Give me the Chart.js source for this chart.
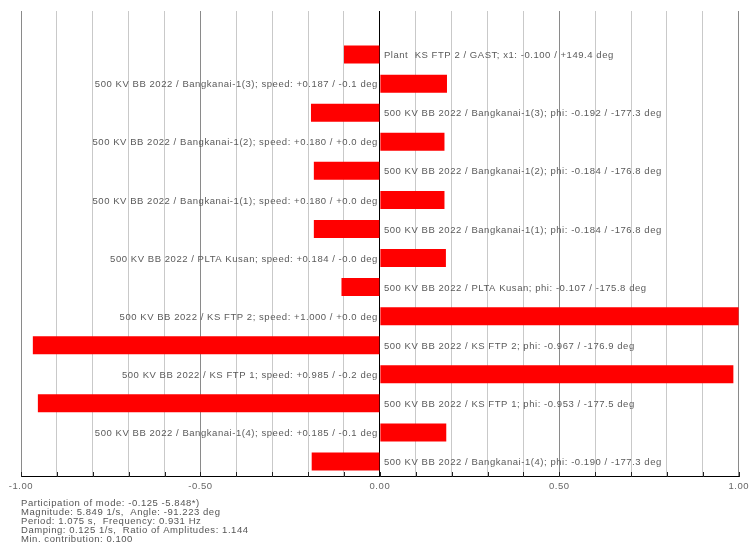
<!DOCTYPE html>
<html>
<head>
<meta charset="utf-8">
<script src="https://cdn.jsdelivr.net/npm/chart.js@4/dist/chart.umd.min.js"></script>
<style>
  html, body { margin: 0; padding: 0; background: #ffffff; }
  #wrap { position: relative; width: 753px; height: 555px; }
</style>
</head>
<body>
<div id="wrap"><canvas id="c" width="753" height="555"></canvas></div>
<script>
// Participation factors for the oscillation mode (top to bottom)
const categories = [
  "",
  "Plant  KS FTP 2 / GAST; x1: -0.100 / +149.4 deg",
  "500 KV BB 2022 / Bangkanai-1(3); speed: +0.187 / -0.1 deg",
  "500 KV BB 2022 / Bangkanai-1(3); phi: -0.192 / -177.3 deg",
  "500 KV BB 2022 / Bangkanai-1(2); speed: +0.180 / +0.0 deg",
  "500 KV BB 2022 / Bangkanai-1(2); phi: -0.184 / -176.8 deg",
  "500 KV BB 2022 / Bangkanai-1(1); speed: +0.180 / +0.0 deg",
  "500 KV BB 2022 / Bangkanai-1(1); phi: -0.184 / -176.8 deg",
  "500 KV BB 2022 / PLTA Kusan; speed: +0.184 / -0.0 deg",
  "500 KV BB 2022 / PLTA Kusan; phi: -0.107 / -175.8 deg",
  "500 KV BB 2022 / KS FTP 2; speed: +1.000 / +0.0 deg",
  "500 KV BB 2022 / KS FTP 2; phi: -0.967 / -176.9 deg",
  "500 KV BB 2022 / KS FTP 1; speed: +0.985 / -0.2 deg",
  "500 KV BB 2022 / KS FTP 1; phi: -0.953 / -177.5 deg",
  "500 KV BB 2022 / Bangkanai-1(4); speed: +0.185 / -0.1 deg",
  "500 KV BB 2022 / Bangkanai-1(4); phi: -0.190 / -177.3 deg"
];
const contributions = [
  null,
  -0.100,
  0.187,
  -0.192,
  0.180,
  -0.184,
  0.180,
  -0.184,
  0.184,
  -0.107,
  1.000,
  -0.967,
  0.985,
  -0.953,
  0.185,
  -0.190
];
const xTickLabels = ["-1.00", "-0.50", "0.00", "0.50", "1.00"];
const modeInfo = [
  "Participation of mode: -0.125 -5.848*)",
  "Magnitude: 5.849 1/s,  Angle: -91.223 deg",
  "Period: 1.075 s,  Frequency: 0.931 Hz",
  "Damping: 0.125 1/s,  Ratio of Amplitudes: 1.144",
  "Min. contribution: 0.100"
];

const FONT = '"Liberation Sans", Arial, sans-serif';
const SPACING = '0.55px';

function tenths(v) { return Math.round(v * 10); }

// Loose letter spacing for every text drawn on the canvas
const textSpacing = {
  id: 'textSpacing',
  beforeDraw(chart) { chart.ctx.letterSpacing = SPACING; },
  afterDraw(chart) { chart.ctx.letterSpacing = '0px'; }
};

// Bar captions placed on the side opposite the bar, next to the zero line
const barCaptions = {
  id: 'barCaptions',
  afterDatasetsDraw(chart) {
    const ctx = chart.ctx;
    const xs = chart.scales.x;
    const zero = xs.getPixelForValue(0);
    const meta = chart.getDatasetMeta(0);
    ctx.save();
    ctx.letterSpacing = SPACING;
    ctx.font = '9.5px ' + FONT;
    ctx.fillStyle = '#5a5a5a';
    ctx.textBaseline = 'middle';
    meta.data.forEach((bar, i) => {
      const v = contributions[i];
      if (v === null) return;
      if (v > 0) {
        ctx.textAlign = 'right';
        ctx.fillText(categories[i], zero - 2, bar.y + 1);
      } else {
        ctx.textAlign = 'left';
        ctx.fillText(categories[i], zero + 4, bar.y + 1);
      }
    });
    ctx.restore();
  }
};

// Short tick marks across the bottom axis and the mode summary below
const axisExtras = {
  id: 'axisExtras',
  afterDraw(chart) {
    const ctx = chart.ctx;
    const xs = chart.scales.x;
    const area = chart.chartArea;
    ctx.save();
    ctx.strokeStyle = '#222222';
    ctx.lineWidth = 1;
    for (let k = -10; k <= 10; k++) {
      const px = Math.round(xs.getPixelForValue(k / 10)) + 0.5;
      ctx.beginPath();
      ctx.moveTo(px, area.bottom - 4);
      ctx.lineTo(px, area.bottom + 1);
      ctx.stroke();
    }
    ctx.letterSpacing = SPACING;
    ctx.font = '9.5px ' + FONT;
    ctx.fillStyle = '#555555';
    ctx.textAlign = 'left';
    ctx.textBaseline = 'middle';
    modeInfo.forEach((line, i) => {
      ctx.fillText(line, 21, 503 + i * 9.2);
    });
    ctx.restore();
  }
};

new Chart(document.getElementById('c'), {
  type: 'bar',
  data: {
    labels: categories,
    datasets: [{
      data: contributions,
      backgroundColor: '#ff0000',
      borderWidth: 0,
      barPercentage: 0.62,
      categoryPercentage: 1.0
    }]
  },
  options: {
    indexAxis: 'y',
    responsive: false,
    animation: false,
    devicePixelRatio: 1,
    layout: { padding: { left: 21, right: 12, top: 11, bottom: 0 } },
    plugins: {
      legend: { display: false },
      tooltip: { enabled: false }
    },
    scales: {
      y: { display: false },
      x: {
        type: 'linear',
        min: -1,
        max: 1,
        position: 'bottom',
        afterFit(scale) { scale.height = 79; },
        border: { display: true, color: '#000000', width: 1 },
        grid: {
          drawTicks: false,
          lineWidth: 1,
          color(ctx) {
            const t = tenths(ctx.tick.value);
            if (t === 0) return '#000000';
            if (t % 5 === 0) return '#8a8a8a';
            return '#c9c9c9';
          }
        },
        ticks: {
          stepSize: 0.1,
          padding: 5,
          autoSkip: false,
          maxRotation: 0,
          color: '#666666',
          font: { family: FONT, size: 9.5 },
          callback(value) {
            const t = tenths(value);
            if (t % 5 !== 0) return '';
            return xTickLabels[(t + 10) / 5];
          }
        }
      }
    }
  },
  plugins: [textSpacing, barCaptions, axisExtras]
});
</script>
</body>
</html>
